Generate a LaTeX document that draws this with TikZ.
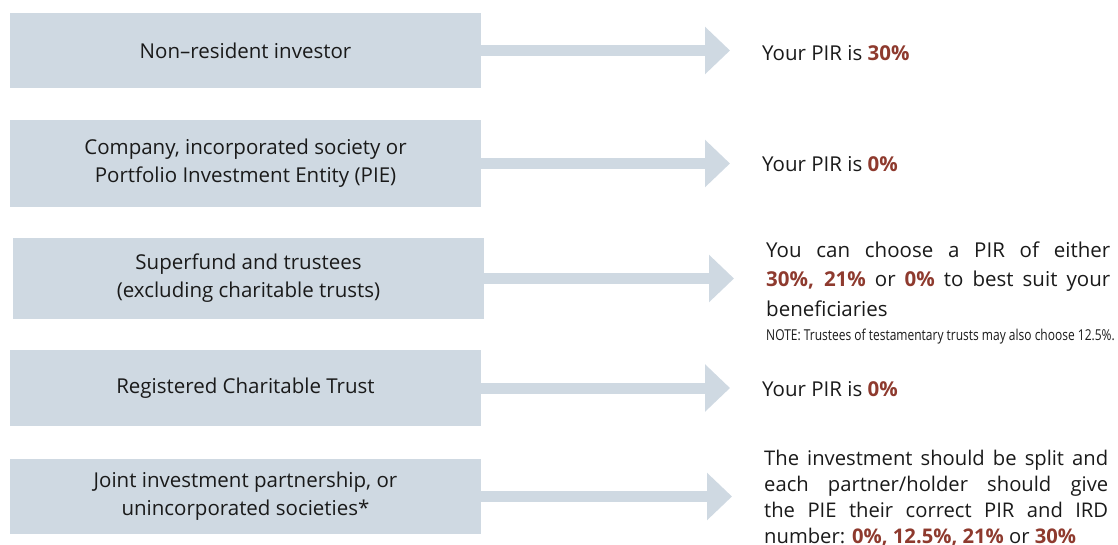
\documentclass[tikz,border=0pt]{standalone}
\usepackage{fontspec}
\setmainfont{Open Sans}
\newfontfamily\condfont[FakeStretch=0.8]{Open Sans}
\usetikzlibrary{arrows.meta}
\definecolor{boxblue}{HTML}{CFD9E2}
\definecolor{pirred}{HTML}{8E3A2E}
\definecolor{ink}{HTML}{1A1A1A}
\newcommand\redb[1]{\textcolor{pirred}{\bfseries #1}}
\begin{document}
\begin{tikzpicture}[x=1pt,y=-1pt,
  box/.style={fill=boxblue, draw=none, minimum width=471pt, inner sep=0pt,
    align=center, text=ink, font=\fontsize{20.5}{28}\selectfont},
  flow/.style={draw=boxblue, line width=11pt,
    -{Triangle[length=25pt 0 0,width=46pt 0 0]}, shorten >=32pt},
  result/.style={anchor=base west, inner sep=0pt, align=left, text=ink,
    font=\fontsize{20.5}{29.5}\selectfont},
]
\useasboundingbox (0,0) rectangle (1118,544);

\node[box, minimum height=75pt] (b1) at (245.5,50.5) {Non–resident investor};
\node[box, minimum height=87pt] (b2) at (245.5,163.5) {Company, incorporated society or\\Portfolio Investment Entity (PIE)};
\node[box, minimum height=81pt] (b3) at (248.5,278.5) {Superfund and trustees\\(excluding charitable trusts)};
\node[box, minimum height=76pt] (b4) at (245.5,388) {Registered Charitable Trust};
\node[box, minimum height=75pt] (b5) at (245.5,496.5) {Joint investment partnership, or\\unincorporated societies*};

\node[result] (r1) at (762,60) {Your PIR is \redb{30\%}};
\node[result] (r2) at (762,171.5) {Your PIR is \redb{0\%}};
\node[result] (r3) at (766,316) {\makebox[344pt][s]{You can choose a PIR of either}\\
  \makebox[344pt][s]{\redb{30\%,} \redb{21\%} or \redb{0\%} to best suit your}\\
  beneficiaries};
\node[anchor=base west, inner sep=0pt, text=ink, font=\condfont\fontsize{15}{18}\selectfont] (n3) at (766,340) {NOTE: Trustees of testamentary trusts may also choose 12.5\%.};
\node[result] (r4) at (762,396.5) {Your PIR is \redb{0\%}};
\node[result, font=\fontsize{20.2}{26}\selectfont] (r5) at (764,543) {\makebox[344pt][s]{The investment should be split and}\\
  \makebox[344pt][s]{each partner/holder should give}\\
  \makebox[344pt][s]{the PIE their correct PIR and IRD}\\
  number: \redb{0\%, 12.5\%, 21\%} or \redb{30\%}};

\draw[flow] (b1.east) -- (b1.east -| r1.west);
\draw[flow] (b2.east) -- (b2.east -| r2.west);
\draw[flow] (b3.east) -- (b3.east -| r3.west);
\draw[flow] (b4.east) -- (b4.east -| r4.west);
\draw[flow] (b5.east) -- (b5.east -| r5.west);
\end{tikzpicture}
\end{document}
